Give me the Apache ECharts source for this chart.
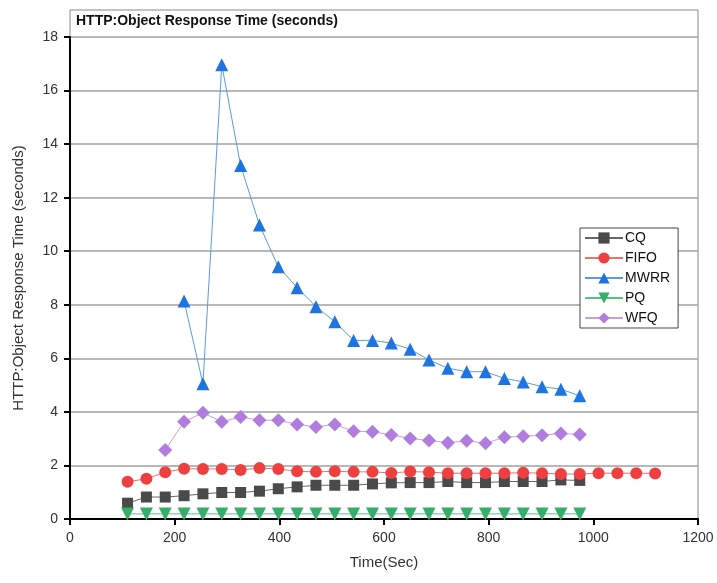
<!DOCTYPE html>
<html>
<head>
<meta charset="utf-8">
<script src="https://cdn.jsdelivr.net/npm/echarts@6/dist/echarts.min.js"></script>
<style>
  html, body { margin: 0; padding: 0; background: #fff; }
  #chart { width: 717px; height: 583px; }
</style>
</head>
<body>
<div id="chart"></div>
<script>
// sample times (sec)
const times = [110, 146, 182, 218, 254, 290, 326, 362, 398, 434, 470, 506, 542,
  578, 614, 650, 686, 722, 758, 794, 830, 866, 902, 938, 974, 1010, 1046, 1082, 1118];

const cq = [0.59, 0.82, 0.82, 0.87, 0.94, 0.99, 0.99, 1.04, 1.13, 1.2, 1.26, 1.26, 1.26,
  1.31, 1.35, 1.36, 1.36, 1.4, 1.36, 1.36, 1.4, 1.4, 1.4, 1.46, 1.44];
const fifo = [1.39, 1.5, 1.75, 1.88, 1.87, 1.87, 1.83, 1.9, 1.87, 1.78, 1.76, 1.78, 1.76,
  1.76, 1.72, 1.77, 1.75, 1.71, 1.71, 1.71, 1.71, 1.73, 1.71, 1.68, 1.68, 1.71, 1.71, 1.71, 1.7];
const mwrr = [null, null, null, 8.14, 5.05, 16.96, 13.2, 10.98, 9.42, 8.64, 7.93, 7.37, 6.67,
  6.67, 6.57, 6.34, 5.94, 5.63, 5.5, 5.5, 5.25, 5.12, 4.94, 4.85, 4.6];
const pq = [0.19, 0.19, 0.19, 0.19, 0.19, 0.19, 0.19, 0.19, 0.19, 0.19, 0.19, 0.19, 0.19,
  0.19, 0.19, 0.19, 0.19, 0.19, 0.19, 0.19, 0.19, 0.19, 0.19, 0.19, 0.19];
const wfq = [null, null, 2.58, 3.63, 3.97, 3.63, 3.81, 3.69, 3.69, 3.53, 3.44, 3.53, 3.28,
  3.26, 3.14, 3.01, 2.93, 2.85, 2.92, 2.83, 3.05, 3.09, 3.13, 3.19, 3.16];

const xTicks = [0, 200, 400, 600, 800, 1000, 1200];
const yTicks = [0, 2, 4, 6, 8, 10, 12, 14, 16, 18];

function pairs(vals) {
  const out = [];
  vals.forEach(function (v, i) {
    if (v !== null) out.push([times[i], v]);
  });
  return out;
}

const myChart = echarts.init(document.getElementById('chart'));

function mkSeries(name, vals, symbol, size, markColor, lineColor, rotate) {
  return {
    name: name,
    type: 'line',
    data: pairs(vals),
    symbol: symbol,
    symbolSize: size,
    symbolRotate: rotate || 0,
    showAllSymbol: true,
    itemStyle: { color: markColor },
    lineStyle: { color: lineColor, width: 1 },
    emphasis: { disabled: true },
    animation: false
  };
}

const option = {
  backgroundColor: '#fff',
  textStyle: { fontFamily: 'Liberation Sans, Arial, sans-serif' },
  title: {
    text: 'HTTP:Object Response Time (seconds)',
    left: 76,
    top: 14,
    padding: 0,
    textStyle: { fontSize: 14, fontWeight: 'bold', color: '#111' }
  },
  graphic: [
    {
      type: 'rect',
      shape: { x: 70, y: 10, width: 628, height: 509 },
      style: { fill: 'none', stroke: '#888', lineWidth: 1 },
      silent: true,
      z: -1
    }
  ],
  grid: { left: 70, right: 19, top: 37, bottom: 64 },
  legend: {
    orient: 'vertical',
    left: 580,
    top: 228,
    width: 100,
    padding: [3, 8, 3, 4],
    itemWidth: 38,
    itemHeight: 14,
    itemGap: 6,
    backgroundColor: '#fff',
    borderColor: '#444',
    borderWidth: 1,
    textStyle: { fontSize: 14, color: '#111', padding: [0, 0, 0, -3] },
    data: ['CQ', 'FIFO', 'MWRR', 'PQ', 'WFQ']
  },
  xAxis: {
    type: 'value',
    min: 0,
    max: 1200,
    interval: 200,
    name: 'Time(Sec)',
    nameLocation: 'middle',
    nameGap: 36,
    nameTextStyle: { fontSize: 15, color: '#333' },
    axisLine: { lineStyle: { color: '#000', width: 2 } },
    axisTick: { show: true, length: 6, lineStyle: { color: '#000', width: 2 } },
    axisLabel: { fontSize: 14, color: '#333', margin: 12, formatter: function (v) { return String(v); } },
    splitLine: { show: false }
  },
  yAxis: {
    type: 'value',
    min: 0,
    max: 18,
    interval: 2,
    name: 'HTTP:Object Response Time (seconds)',
    nameLocation: 'middle',
    nameGap: 44,
    nameTextStyle: { fontSize: 15, color: '#333' },
    axisLine: { show: true, lineStyle: { color: '#000', width: 2 } },
    axisTick: { show: true, length: 6, lineStyle: { color: '#000', width: 2 } },
    axisLabel: { fontSize: 14, color: '#333', margin: 12 },
    splitLine: { show: true, lineStyle: { color: '#a0a0a0', width: 1.5 } }
  },
  series: [
    mkSeries('CQ', cq, 'rect', 11, '#4a4a4a', '#666'),
    mkSeries('FIFO', fifo, 'circle', 12, '#ee4040', '#f07070'),
    mkSeries('MWRR', mwrr, 'triangle', 13, '#1f74e0', '#5a9ae8'),
    mkSeries('PQ', pq, 'triangle', 13, '#36ad6a', '#5cc08a', 180),
    mkSeries('WFQ', wfq, 'diamond', 14, '#b07ddf', '#c49ee8')
  ]
};

myChart.setOption(option);
</script>
</body>
</html>
